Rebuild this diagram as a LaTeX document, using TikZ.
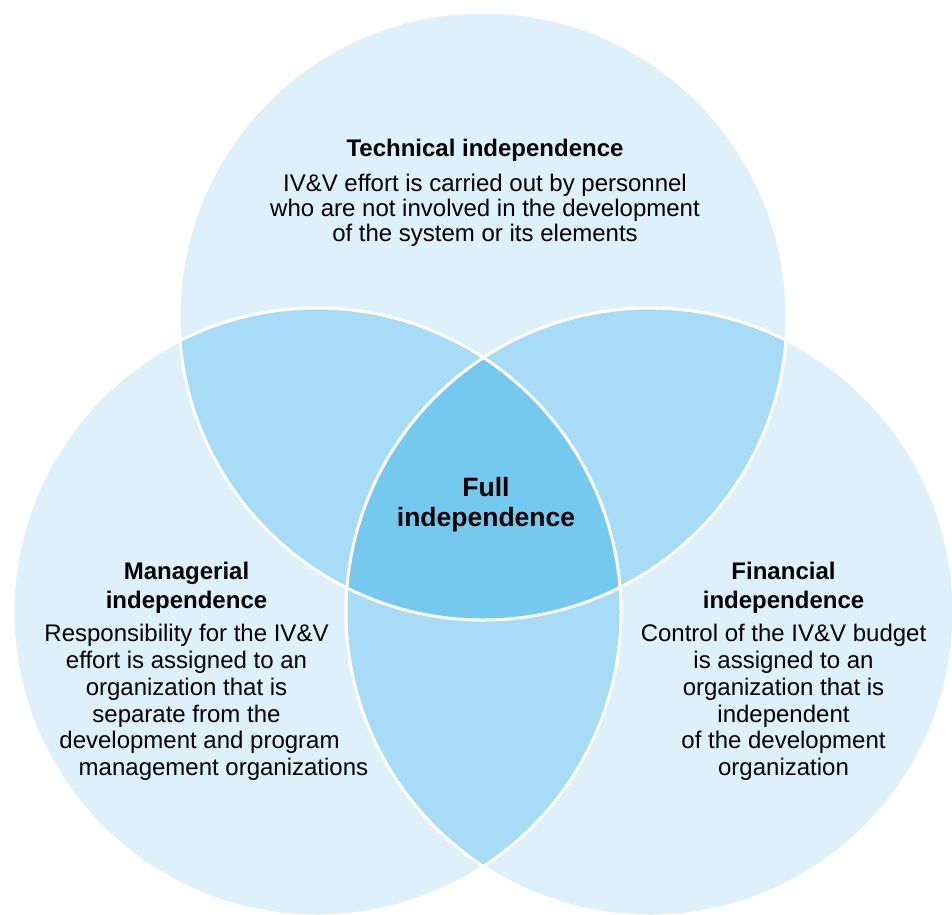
\documentclass[tikz,border=0pt]{standalone}
\usepackage{fontspec}
\setmainfont{Liberation Sans}
\definecolor{vlight}{RGB}{222,240,250}
\definecolor{vmid}{RGB}{168,219,245}
\definecolor{vdark}{RGB}{118,201,238}
\tikzset{
  ring/.style={white, line width=3pt},
  titletext/.style={align=center, inner sep=0pt, font=\fontsize{24}{29}\selectfont\bfseries},
  bodytext/.style={align=center, inner sep=0pt, font=\fontsize{24}{26.7}\selectfont},
  fulltext/.style={align=center, inner sep=0pt, font=\fontsize{26.5}{30}\selectfont\bfseries}
}
\begin{document}
\begin{tikzpicture}[x=1pt, y=-1pt]
\useasboundingbox (0,0) rectangle (952,914);
\clip (0,0) rectangle (952,914);
\coordinate (T) at (483,316);
\coordinate (L) at (317,612);
\coordinate (R) at (650,612);
% base circles
\fill[vlight] (T) circle[radius=304pt];
\fill[vlight] (L) circle[radius=304pt];
\fill[vlight] (R) circle[radius=304pt];
% pairwise overlaps
\begin{scope}
  \clip (T) circle[radius=304pt];
  \fill[vmid] (L) circle[radius=304pt];
  \fill[vmid] (R) circle[radius=304pt];
\end{scope}
\begin{scope}
  \clip (L) circle[radius=304pt];
  \fill[vmid] (R) circle[radius=304pt];
\end{scope}
% triple overlap
\begin{scope}
  \clip (T) circle[radius=304pt];
  \clip (L) circle[radius=304pt];
  \fill[vdark] (R) circle[radius=304pt];
\end{scope}
% white outlines
\draw[ring] (T) circle[radius=304pt];
\draw[ring] (L) circle[radius=304pt];
\draw[ring] (R) circle[radius=304pt];
% texts
\node[titletext] (techtitle) at (485,150.5) {Technical independence};
\node[bodytext, font=\fontsize{24}{25.2}\selectfont] (techbody) at (485,210) {IV\&V effort is carried out by personnel\\who are not involved in the development\\of the system or its elements};
\node[fulltext] (full) at (486,505) {Full\\independence};
\node[titletext] (mantitle) at (186.5,588) {Managerial\\independence};
\node[bodytext] (manbody) at (186.5,702.5) {Responsibility for the IV\&V\\effort is assigned to an\\organization that is\\separate from the\\\hspace*{26pt}development and program\\\hspace*{74pt}management organizations};
\node[titletext] (fintitle) at (783.5,588) {Financial\\independence};
\node[bodytext] (finbody) at (783.5,702.5) {Control of the IV\&V budget\\is assigned to an\\organization that is\\independent\\of the development\\organization};
\end{tikzpicture}
\end{document}
